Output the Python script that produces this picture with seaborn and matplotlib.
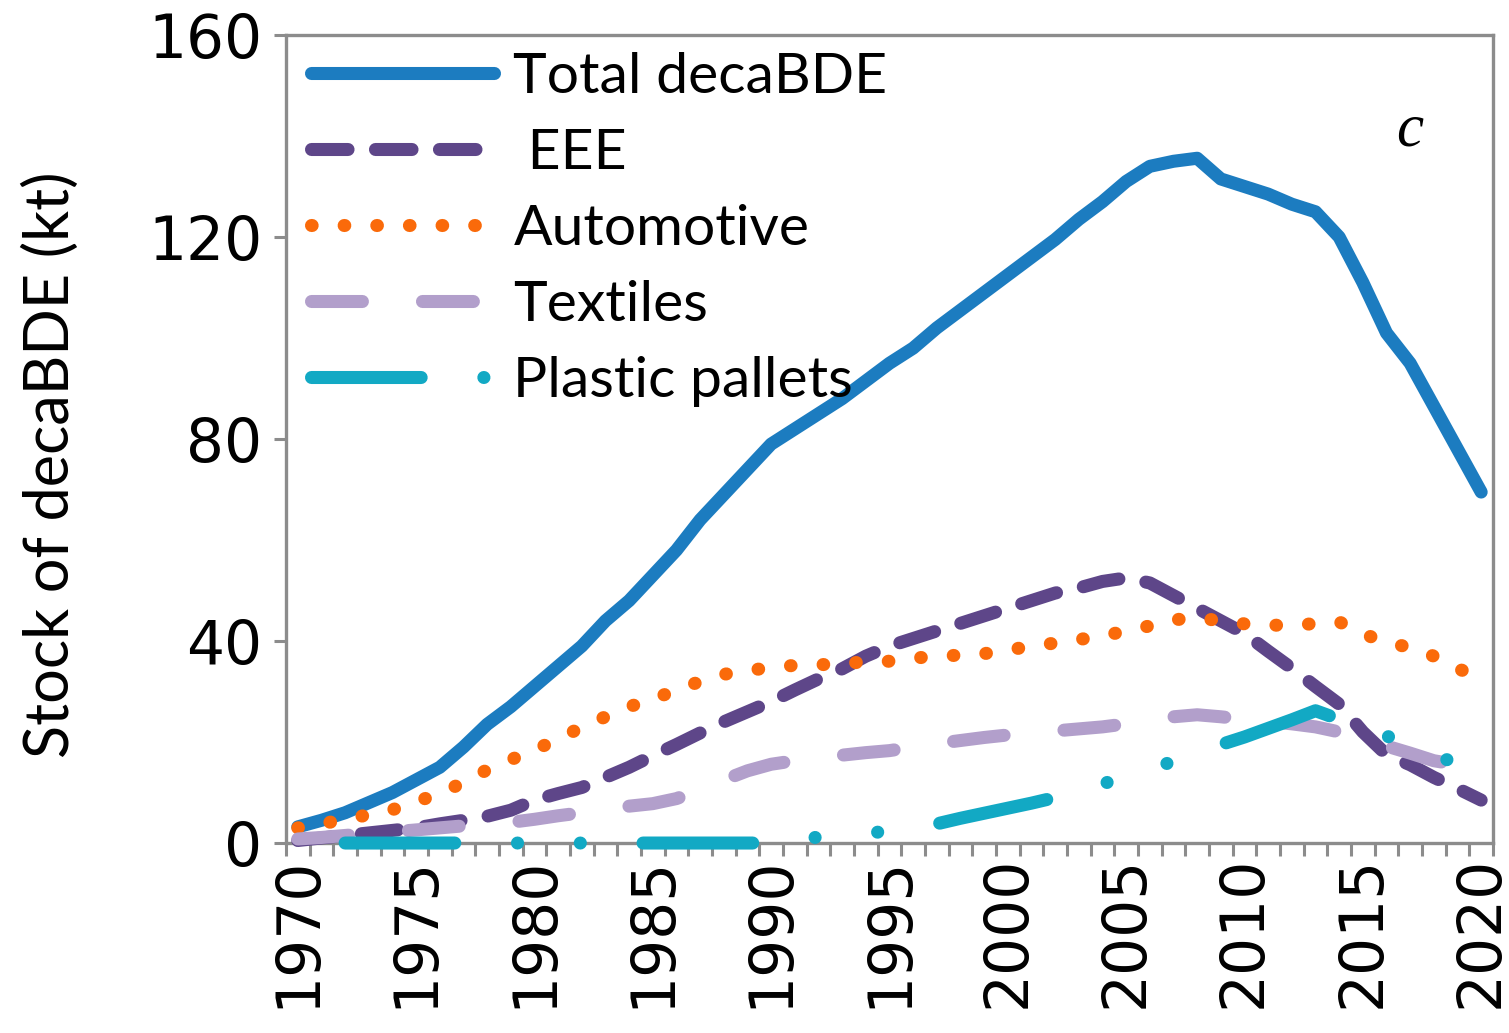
import numpy as np
import matplotlib
matplotlib.use("Agg")
import matplotlib.pyplot as plt
from matplotlib.lines import Line2D
import seaborn as sns

# ---- data (kt of decaBDE in stock) ----
years = list(range(1970, 2021))

total_decabde = [3.2, 4.5, 6, 8, 10, 12.5, 15, 19, 23.5, 27,
                 31, 35, 39, 44, 48, 53, 58, 64, 69, 74,
                 79, 82, 85, 88, 91.5, 95, 98, 102, 105.5, 109,
                 112.5, 116, 119.5, 123.5, 127, 131, 134, 135, 135.6, 131.5,
                 130, 128.5, 126.5, 125, 120, 111, 101, 95, 86.5, 78, 69.5]

eee = [0.5, 1, 1.5, 2, 2.5, 3, 3.8, 4.5, 5.3, 6.5,
       8.5, 9.8, 11, 13, 15, 17.3, 19.5, 21.8, 24, 26,
       28, 30.3, 32.5, 34.5, 37, 39, 40.5, 42, 43.5, 45,
       46.5, 48, 49.5, 50.5, 51.8, 52.5, 51.5, 49, 46.5, 44,
       41.5, 38, 34.6, 31, 27.5, 22, 17.5, 15.5, 13, 10.8, 8.5]

automotive = [3, 3.8, 4.7, 5.6, 6.6, 8.2, 9.8, 12, 14.5, 16.5,
              18.5, 20.5, 23, 25, 27, 28.5, 30.3, 32, 33.4, 34.2,
              34.7, 35.2, 35.3, 35.5, 35.9, 36, 36.6, 37, 37.2, 37.5,
              38.2, 39, 39.6, 40.3, 41, 42, 43, 44.2, 44.6, 44,
              43.4, 43.2, 43, 43.5, 43.8, 41.5, 39.6, 38.8, 37, 34.5, 33]

textiles = [0.8, 1.1, 1.5, 1.9, 2.2, 2.6, 3, 3.4, 3.8, 4.1,
            4.7, 5.4, 6, 6.7, 7.3, 7.8, 8.8, 10.5, 12.5, 14.3,
            15.6, 16.3, 16.9, 17.4, 17.9, 18.3, 19, 19.7, 20.3, 20.9,
            21.4, 21.8, 22.2, 22.6, 23, 23.6, 24.3, 25, 25.4, 25,
            24.5, 24.1, 23.6, 23, 22, 20.5, 19.2, 17.8, 16.3, 15.5, 14.8]

plastic_pallets = [np.nan, np.nan,
                   0, 0, 0, 0, 0, 0, 0, 0,
                   0, 0, 0, 0, 0, 0, 0, 0, 0, 0,
                   0, 0.5, 1.2, 1.6, 2, 2.3, 3, 3.8, 4.9, 5.9,
                   6.9, 7.9, 9, 10.5, 11.7, 13.2, 14.6, 16.2, 17.8, 19.5,
                   21, 22.7, 24.4, 26.2, 24.5, 22.8, 21.2, 19.5, 17.5, 15.7, 14]

labels = ["Total decaBDE", " EEE", "Automotive", "Textiles", "Plastic pallets"]
series = [total_decabde, eee, automotive, textiles, plastic_pallets]

y_ticks = [0, 40, 80, 120, 160]
x_labels = list(range(1970, 2021, 5))

# ---- styling ----
colors = ["#1C7CC0", "#5E4689", "#FA6A0A", "#B29FCB", "#12A9C4"]
dash_patterns = [
    "solid",
    (0, (2.8, 2.1)),
    (0, (0.05, 2.45)),
    (0, (3.9, 4.6)),
    (0, (8.4, 4.8, 0.01, 4.8, 0.01, 4.8)),
]
LW = 9.4
GRAY = "#8c8c8c"

sns.set_style("white")
plt.rcParams["font.family"] = ["DejaVu Sans"]
plt.rcParams["text.color"] = "black"
plt.rcParams["xtick.labelcolor"] = "black"
plt.rcParams["ytick.labelcolor"] = "black"

fig = plt.figure(figsize=(15.09, 10.33), dpi=100)
ax = fig.add_axes([0.1895, 0.1839, 0.7999, 0.7822])

for vals, col, ls in zip(series, colors, dash_patterns):
    sns.lineplot(x=years, y=vals, ax=ax, color=col, linewidth=LW,
                 legend=False, zorder=3, clip_on=False)
    ln = ax.lines[-1]
    ln.set_linestyle(ls)
    ln.set_dash_capstyle("round")
    ln.set_solid_capstyle("round")
    ln.set_solid_joinstyle("round")
    ln.set_dash_joinstyle("round")

ax.set_xlim(1969.5, 2020.5)
ax.set_ylim(0, 160)
ax.set_xlabel("")

ax.set_xticks(x_labels)
ax.set_xticklabels([str(v) for v in x_labels])
ax.set_xticks(np.arange(1969.5, 2021, 1.0), minor=True)
ax.tick_params(axis="x", which="major", length=0, pad=9,
               labelrotation=90, labelsize=43)
ax.tick_params(axis="x", which="minor", length=9, width=2.2,
               color=GRAY, direction="out", bottom=True)
ax.set_yticks(y_ticks)
ax.tick_params(axis="y", which="major", length=9, width=2.2, color=GRAY,
               direction="out", labelsize=43, pad=8, left=True)

for sp in ax.spines.values():
    sp.set_visible(True)
    sp.set_color(GRAY)
    sp.set_linewidth(2.4)
    sp.set_zorder(2)

fig.text(0.034, 0.55, "Stock of decaBDE (kt)", rotation=90, ha="center",
         va="center", fontsize=44, family="Lato", color="black")

ax.text(0.931, 0.882, "c", transform=ax.transAxes, fontsize=44,
        style="italic", family="Liberation Serif", ha="center", va="center")

handles = []
for col, ls in zip(colors, dash_patterns):
    h = Line2D([], [], color=col, linewidth=LW, linestyle=ls,
               dash_capstyle="round", solid_capstyle="round")
    handles.append(h)

ax.legend(handles, labels, loc="upper left", bbox_to_anchor=(0.021, 0.979),
          frameon=False, prop={"family": "Lato", "size": 41},
          handlelength=3.2, handletextpad=0.35, labelspacing=0.44,
          borderpad=0, borderaxespad=0)

fig.savefig("out.png", dpi=100)
